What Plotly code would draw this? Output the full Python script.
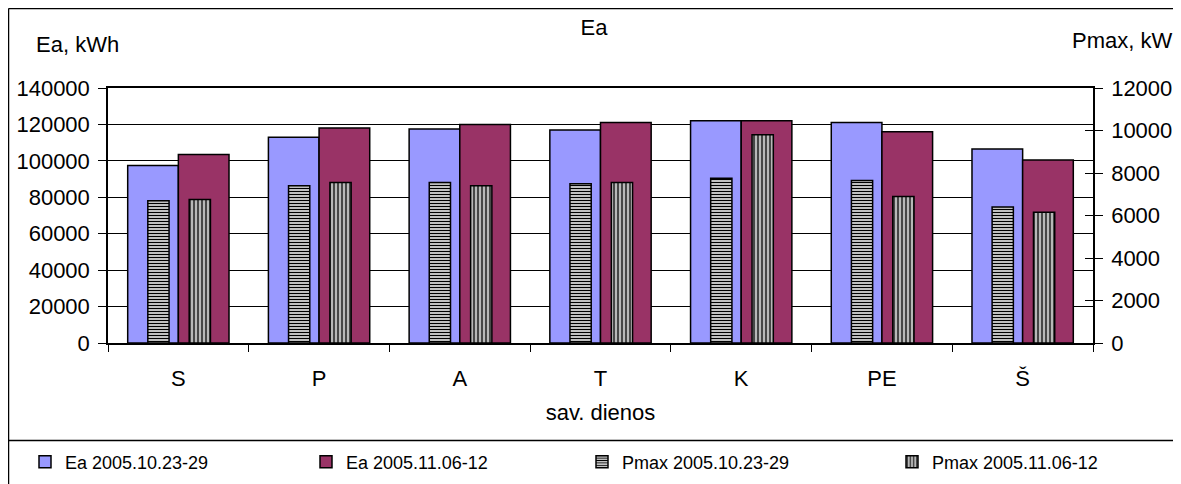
import plotly.graph_objects as go

days = ["S", "P", "A", "T", "K", "PE", "Š"]
ea_oct = [97500, 113000, 117500, 117000, 122000, 121000, 106500]
ea_nov = [103500, 118000, 120000, 121000, 122000, 116000, 100500]
pmax_oct = [6700, 7400, 7550, 7500, 7750, 7650, 6400]
pmax_nov = [6750, 7550, 7400, 7550, 9800, 6900, 6150]

names = ["Ea 2005.10.23-29", "Ea 2005.11.06-12", "Pmax 2005.10.23-29", "Pmax 2005.11.06-12"]

FONT = "Liberation Sans, Arial, sans-serif"
FS = 22
OFF = 8  # page body margin
W, H = 1181 - OFF, 484 - OFF
# plot area in page pixels: x 108..1093, y 88..343
L = 108 - OFF
T = 88 - OFF
R = W - (1093 - OFF)
B = H - (343 - OFF)
PW = W - L - R
PH = H - T - B

def px(x):  # page pixel -> paper
    return (x - OFF - L) / PW

def py(y):
    return (T + PH - (y - OFF)) / PH

fig = go.Figure()
fig.add_trace(go.Bar(x=days, y=ea_oct, name=names[0], offset=-0.36, width=0.36,
                     marker=dict(color="#9999FF", line=dict(color="#000000", width=1.5)),
                     yaxis="y", legend="legend"))
fig.add_trace(go.Bar(x=days, y=ea_nov, name=names[1], offset=0.0, width=0.36,
                     marker=dict(color="#993366", line=dict(color="#000000", width=1.5)),
                     yaxis="y", legend="legend"))
fig.add_trace(go.Bar(x=days, y=pmax_oct, name=names[2], offset=-0.217, width=0.151,
                     marker=dict(color="#ffffff", line=dict(color="#000000", width=1.5),
                                 pattern=dict(shape="-", size=3, solidity=0.5,
                                              fgcolor="#000000", bgcolor="#ffffff", fillmode="replace")),
                     yaxis="y2", legend="legend2"))
fig.add_trace(go.Bar(x=days, y=pmax_nov, name=names[3], offset=0.077, width=0.151,
                     marker=dict(color="#a0a0a0", line=dict(color="#000000", width=1.5),
                                 pattern=dict(shape="|", size=4, solidity=0.45,
                                              fgcolor="#3a3a3a", bgcolor="#b8b8b8", fillmode="replace")),
                     yaxis="y2", legend="legend2"))
# invisible helper trace for inner cross ticks on the right axis
fig.add_trace(go.Scatter(x=[days[0]], y=[0], yaxis="y3", mode="markers",
                         marker=dict(opacity=0), showlegend=False, hoverinfo="skip"))

legend_common = dict(orientation="h", xanchor="left", yanchor="middle", y=py(462),
                     font=dict(family=FONT, size=18, color="#000000"),
                     itemwidth=30, bgcolor="rgba(0,0,0,0)")

fig.update_layout(
    width=W, height=H,
    margin=dict(l=L, r=R, t=T, b=B, autoexpand=False),
    paper_bgcolor="white", plot_bgcolor="white",
    font=dict(family=FONT, size=FS, color="#000000"),
    barmode="overlay",
    title=dict(text="Ea", x=(594 - OFF) / W, xanchor="center", y=1 - (27 - OFF) / H, yanchor="middle",
               font=dict(family=FONT, size=FS, color="#000000")),
    xaxis=dict(type="category", showline=True, linecolor="#000000", linewidth=1.5, mirror=True,
               ticks="outside", ticklen=7, tickcolor="#000000", tickwidth=1, tickson="boundaries",
               showgrid=False, tickfont=dict(size=FS), ticklabelstandoff=15, automargin=False,
               title=dict(text="sav. dienos", font=dict(size=FS), standoff=14)),
    yaxis=dict(range=[0, 140000], dtick=20000, tickformat="d", showline=True, linecolor="#000000",
               linewidth=1.5, ticks="outside", ticklen=8, tickcolor="#000000", showgrid=True,
               gridcolor="#000000", gridwidth=1, tickfont=dict(size=FS), ticklabelstandoff=4,
               zeroline=False, automargin=False),
    yaxis2=dict(range=[0, 12000], dtick=2000, tickformat="d", overlaying="y", side="right", anchor="x",
                showline=True, linecolor="#000000", linewidth=1.5, ticks="outside", ticklen=8,
                tickcolor="#000000", showgrid=False, tickfont=dict(size=FS), ticklabelstandoff=4,
                zeroline=False, automargin=False),
    yaxis3=dict(range=[0, 12000], dtick=2000, overlaying="y", side="right", anchor="x",
                showline=False, ticks="inside", ticklen=8, tickcolor="#000000", showgrid=False,
                showticklabels=False, zeroline=False, automargin=False),
    legend=dict(legend_common, x=px(25), entrywidth=236),
    legend2=dict(legend_common, x=px(582), entrywidth=265),
    annotations=[
        dict(text="Ea, kWh", x=px(34), y=py(45), xref="paper", yref="paper", xanchor="left",
             yanchor="middle", showarrow=False, font=dict(size=FS)),
        dict(text="Pmax, kW", x=px(1174), y=py(40), xref="paper", yref="paper", xanchor="right",
             yanchor="middle", showarrow=False, font=dict(size=FS)),
    ],
    shapes=[
        dict(type="line", xref="paper", yref="paper", x0=px(8.5), x1=px(8.5), y0=py(8.5), y1=py(484),
             line=dict(color="#000000", width=1.5)),
        dict(type="line", xref="paper", yref="paper", x0=px(8.5), x1=px(1181), y0=py(8.5), y1=py(8.5),
             line=dict(color="#000000", width=1.5)),
        dict(type="line", xref="paper", yref="paper", x0=px(8.5), x1=px(1181), y0=py(440.5), y1=py(440.5),
             line=dict(color="#000000", width=1.5)),
    ],
)

fig.write_html("out.html")
